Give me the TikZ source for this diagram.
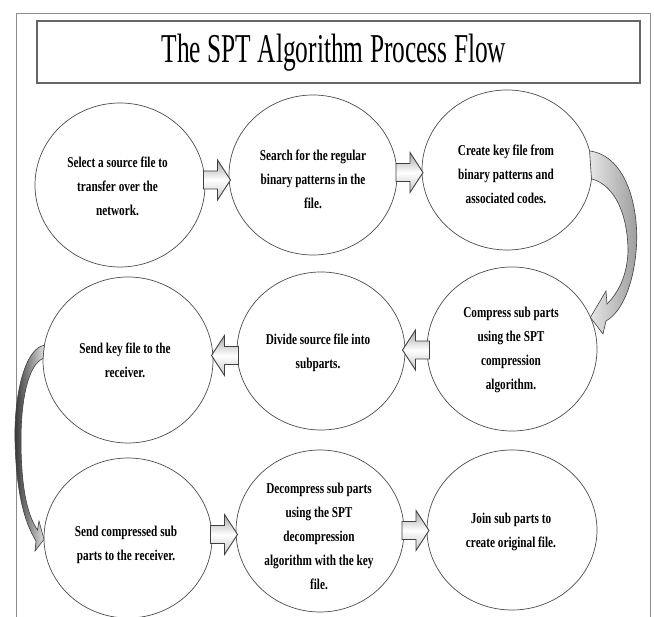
\documentclass[tikz,border=0pt]{standalone}
\usepackage{fontspec}
\setmainfont{Liberation Serif}
\newfontfamily\titlefont[FakeStretch=0.62]{Liberation Serif}
\newfontfamily\stagefont[FakeStretch=0.75]{Liberation Serif}
\usetikzlibrary{shapes.geometric,calc}

\begin{document}
\begin{tikzpicture}[x=1pt,y=-1pt,
  stage/.style={ellipse, draw=black!70, line width=0.7pt, minimum width=170pt,
    minimum height=162pt, inner sep=0pt, outer sep=0pt},
  stagetext/.style={align=center, inner sep=0pt,
    font={\stagefont\bfseries\fontsize{15}{24}\selectfont}},
  flowarrow/.style={draw=black!75, line width=0.9pt, line join=miter,
    top color=gray!70, bottom color=gray!45, middle color=white},
  % block arrow pointing right, centred on the pic origin
  rblock/.pic={\path[flowarrow] (-13.5,-9) -- (0.5,-9) -- (0.5,-20) -- (13.5,0)
    -- (0.5,20) -- (0.5,9) -- (-13.5,9) -- cycle;},
  % block arrow pointing left
  lblock/.pic={\path[flowarrow] (13.5,-9) -- (-0.5,-9) -- (-0.5,-20) -- (-13.5,0)
    -- (-0.5,20) -- (-0.5,9) -- (13.5,9) -- cycle;},
  bendright/.style={draw=black!75, line width=0.6pt, left color=gray!20, right color=gray!80},
  bendleft/.style={draw=black!75, line width=0.6pt, left color=black!80, right color=gray!25}]

\useasboundingbox (0,0) rectangle (654,617);

% page frame, open at the bottom
\draw[black!45, line width=0.8pt] (16,617) -- (16,13) -- (650,13) -- (650,617);

% heading
\node[draw=black!60, line width=1.2pt, minimum width=603pt, minimum height=62pt,
  inner sep=0pt] (titlebox) at (338.5,52) {};
\node[font={\titlefont\fontsize{41}{41}\selectfont}, anchor=base, inner sep=0pt]
  (title) at (334,63) {The SPT Algorithm Process Flow};

% stages
\node[stage, minimum height=164pt] (e1) at (120,185) {};
\node[stage, minimum width=168pt, minimum height=160pt] (e2) at (313,175) {};
\node[stage, minimum height=160pt] (e3) at (507,170) {};
\node[stage, minimum height=166pt] (e4) at (128,360) {};
\node[stage, minimum width=168pt, minimum height=158pt] (e5) at (321,351) {};
\node[stage, minimum height=164pt] (e6) at (512,349) {};
\node[stage, minimum width=168pt, minimum height=160pt] (e7) at (128,538) {};
\node[stage, minimum width=168pt, minimum height=162pt] (e8) at (320,531) {};
\node[stage, minimum height=160pt] (e9) at (512,530) {};

\node[stagetext] (t1) at (117.5,186.5) {Select a source file to\\transfer over the\\network.};
\node[stagetext] (t2) at (313,179) {Search for the regular\\binary patterns in the\\file.};
\node[stagetext] (t3) at (506,174.5) {Create key file from\\binary patterns and\\associated codes.};
\node[stagetext] (t6) at (511,350) {Compress sub parts\\using the SPT\\compression\\algorithm.};
\node[stagetext] (t5) at (318,352.5) {Divide source file into\\subparts.};
\node[stagetext] (t4) at (125,360.5) {Send key file to the\\receiver.};
\node[stagetext] (t7) at (126,545) {Send compressed sub\\parts to the receiver.};
\node[stagetext] (t8) at (319,536) {Decompress sub parts\\using the SPT\\decompression\\algorithm with the key\\file.};
\node[stagetext] (t9) at (511,532) {Join sub parts to\\create original file.};

% straight block arrows between neighbouring stages
\pic (a12) at ($(e1.east)!0.5!(e2.west)$) {rblock};
\pic (a23) at ($(e2.east)!0.5!(e3.west)$) {rblock};
\pic (a65) at ($(e6.west)!0.5!(e5.east)$) {lblock};
\pic (a54) at ($(e5.west)!0.5!(e4.east)$) {lblock};
\pic (a78) at ($(e7.east)!0.5!(e8.west)$) {rblock};
\pic (a89) at ($(e8.east)!0.5!(e9.west)$) {rblock};

% curved block arrows down the sides
\draw[bendright] (e3.13) .. controls (628,156) and (640,212) .. (636,252)
  .. controls (633,285) and (622,312) .. (606,321) -- (603,334) -- (e6.22)
  -- (606,291) -- (607,304) .. controls (619,292) and (627,275) .. (628,252)
  .. controls (628,215) and (615,185) .. (e3.-6) -- cycle;
\draw[bendleft] (e4.170) .. controls (25,348) and (14,395) .. (15,440)
  .. controls (16,490) and (24,522) .. (36,541) -- (35,551) -- (e7.181)
  -- (39,521) -- (37.5,530) .. controls (28,516) and (21,490) .. (21,440)
  .. controls (21,400) and (28,365) .. (e4.179) -- cycle;

\end{tikzpicture}
\end{document}
